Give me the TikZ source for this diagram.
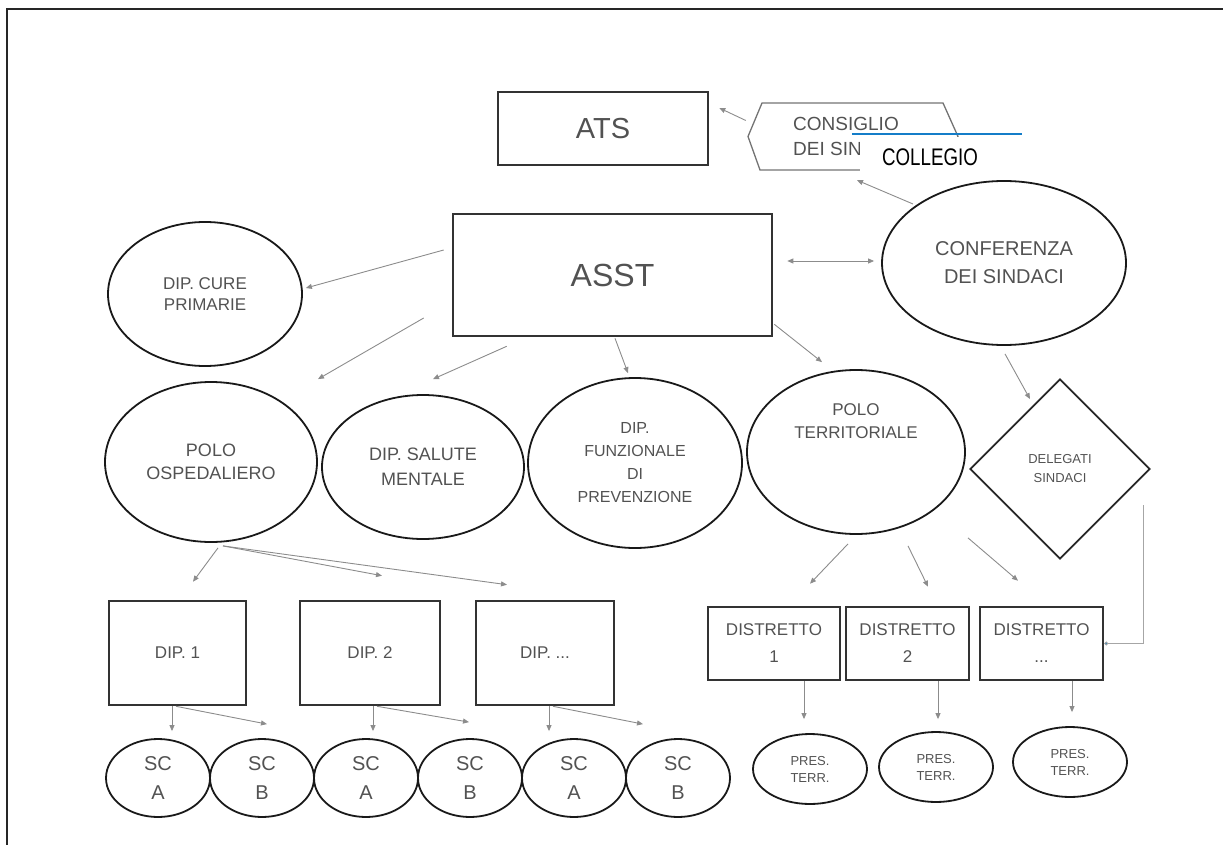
\documentclass[tikz,border=0pt]{standalone}
\usepackage{fontspec}
\setmainfont{Liberation Sans}
\usepackage{graphicx}
\usetikzlibrary{shapes.geometric,arrows.meta,calc}
\begin{document}
\begin{tikzpicture}[x=1pt,y=-1pt,
 txt/.style={text=black!68, align=center, inner sep=0pt},
 box/.style={txt, draw=black!80, line width=2.6pt, rectangle},
 ell/.style={txt, draw=black!90, line width=1.8pt, ellipse},
 dia/.style={txt, draw=black!85, line width=1.8pt, diamond},
 arr/.style={draw=black!45, line width=0.9pt, -{Triangle[length=6pt,width=5pt]}},
 darr/.style={draw=black!45, line width=0.9pt, {Triangle[length=6pt,width=5pt]}-{Triangle[length=6pt,width=5pt]}},
 frameline/.style={draw=black!85, line width=2pt},
 hexline/.style={draw=black!55, line width=1.3pt},
 blueline/.style={draw={rgb,255:red,20;green,125;blue,200}, line width=1.8pt},
 sc/.style={ell, minimum width=104pt, minimum height=78pt, font=\fontsize{20}{29}\selectfont},
 pres/.style={ell, minimum width=114pt, minimum height=70pt, font=\fontsize{13}{17}\selectfont},
 dipbox/.style={box, minimum height=104pt, font=\fontsize{17}{21}\selectfont},
 distbox/.style={box, minimum height=73pt, font=\fontsize{17}{27}\selectfont},
]
\useasboundingbox (0,0) rectangle (1223,845);

% frame
\draw[frameline] (6,9.5) -- (1223,9.5);
\draw[frameline] (7,9) -- (7,845);

% top level
\node[box, minimum width=210pt, minimum height=73pt, font=\fontsize{29}{33}\selectfont] (ats) at (603,128.5) {ATS};
\node[txt, minimum width=210pt, minimum height=67pt, align=left, font=\fontsize{19}{25}\selectfont] (cons) at (846,136.5) {CONSIGLIO\\DEI SIN};
\draw[hexline] ([shift={(-98,0)}]cons.center) -- ([shift={(-84,-33.5)}]cons.center) -- ([shift={(97,-33.5)}]cons.center) -- ([shift={(112,0)}]cons.center) -- ([shift={(97,33.5)}]cons.center) -- ([shift={(-86,33.5)}]cons.center) -- cycle;
\node[fill=white, minimum width=140pt, minimum height=40pt, inner sep=0pt, text=black, font=\fontsize{24}{28}\selectfont] (coll) at (930,157) {\scalebox{0.78}[1]{COLLEGIO}};
\draw[blueline] ([shift={(-8,-3)}]coll.north west) -- ([shift={(22,-3)}]coll.north east);

\node[box, minimum width=319pt, minimum height=122pt, font=\fontsize{32}{36}\selectfont] (asst) at (612.5,275) {ASST};
\node[ell, minimum width=244pt, minimum height=164pt, font=\fontsize{20}{28}\selectfont] (conf) at (1004,263) {CONFERENZA\\DEI SINDACI};
\node[ell, minimum width=194pt, minimum height=144pt, font=\fontsize{17}{21}\selectfont] (cure) at (205,294) {DIP. CURE\\PRIMARIE};

% middle row
\node[ell, minimum width=212pt, minimum height=160pt, font=\fontsize{18}{23}\selectfont] (posp) at (211,462) {POLO\\OSPEDALIERO};
\node[ell, minimum width=202pt, minimum height=144pt, font=\fontsize{18}{25}\selectfont] (salute) at (423,467) {DIP. SALUTE\\MENTALE};
\node[ell, minimum width=214pt, minimum height=170pt, font=\fontsize{16}{23}\selectfont] (funz) at (635,463) {DIP.\\FUNZIONALE\\DI\\PREVENZIONE};
\node[ell, minimum width=218pt, minimum height=164pt, label={[txt, font=\fontsize{17}{23}\selectfont, yshift=31pt]center:{POLO\\TERRITORIALE}}] (pterr) at (856,452) {};
\node[dia, minimum width=180pt, minimum height=180pt, font=\fontsize{13}{19}\selectfont] (deleg) at (1060,469) {DELEGATI\\SINDACI};

% boxes row
\node[dipbox, minimum width=137pt] (dip1) at (177.5,653) {DIP. 1};
\node[dipbox, minimum width=140pt] (dip2) at (370,653) {DIP. 2};
\node[dipbox, minimum width=138pt] (dip3) at (545,653) {DIP. ...};
\node[distbox, minimum width=132pt] (dist1) at (774,643.5) {DISTRETTO\\1};
\node[distbox, minimum width=123pt] (dist2) at (907.5,643.5) {DISTRETTO\\2};
\node[distbox, minimum width=123pt] (dist3) at (1041.5,643.5) {DISTRETTO\\...};

% bottom row
\node[sc] (sca1) at (158,778) {SC\\A};
\node[sc] (scb1) at (262,778) {SC\\B};
\node[sc] (sca2) at (366,778) {SC\\A};
\node[sc] (scb2) at (470,778) {SC\\B};
\node[sc] (sca3) at (574,778) {SC\\A};
\node[sc] (scb3) at (678,778) {SC\\B};
\node[pres] (pres1) at (810,769) {PRES.\\TERR.};
\node[pres] (pres2) at (936,767) {PRES.\\TERR.};
\node[pres] (pres3) at (1070,762) {PRES.\\TERR.};

% connectors
\draw[arr] ([shift={(5,-16)}]cons.west) -- ([shift={(10,-20.5)}]ats.east);
\draw[arr] ([shift={(-91,-59)}]conf.center) -- ([shift={(11,10)}]cons.south);
\draw[darr] ([shift={(14,-14)}]asst.east) -- ([shift={(-7,-2)}]conf.west);
\draw[arr] ([shift={(-8,-25)}]asst.west) -- ([shift={(3,-6)}]cure.east);
\draw[arr] ([shift={(-28,43)}]asst.west) -- ([shift={(107,-2)}]posp.north);
\draw[arr] ([shift={(55,9)}]asst.south west) -- ([shift={(10,-15)}]salute.north);
\draw[arr] ([shift={(2.5,1)}]asst.south) -- ([shift={(-7,-4)}]funz.north);
\draw[arr] ([shift={(1,-13)}]asst.south east) -- ([shift={(-34,-7)}]pterr.north);
\draw[arr] ([shift={(1,8)}]conf.south) -- ([shift={(-30,21)}]deleg.north);

\draw[arr] ([shift={(7,5)}]posp.south) -- ([shift={(15.5,-18)}]dip1.north);
\draw[arr] ([shift={(12,3)}]posp.south) -- ([shift={(12,-24)}]dip2.north);
\draw[arr] ([shift={(12,3)}]posp.south) -- ([shift={(-38,-15)}]dip3.north);
\draw[arr] ([shift={(-8,9)}]pterr.south) -- ([shift={(36,-22)}]dist1.north);
\draw[arr] ([shift={(52,11)}]pterr.south) -- ([shift={(20.5,-19)}]dist2.north);
\draw[arr] ([shift={(112,3)}]pterr.south) -- ([shift={(-23.5,-25)}]dist3.north);
\draw[draw=black!35, line width=0.7pt, -{Circle[length=4pt, fill={rgb,255:red,70;green,140;blue,180}]}] ([shift={(-8,36)}]deleg.east) |- (dist3.east);

\draw[arr] ([xshift=-5.5pt]dip1.south) -- ([shift={(14,-7)}]sca1.north);
\draw[arr] ([xshift=-1.5pt]dip1.south) -- ([shift={(5,-14)}]scb1.north);
\draw[arr] ([xshift=3pt]dip2.south) -- ([shift={(7,-7)}]sca2.north);
\draw[arr] ([xshift=7pt]dip2.south) -- ([shift={(-1,-16)}]scb2.north);
\draw[arr] ([xshift=4pt]dip3.south) -- ([shift={(-25,-7)}]sca3.north);
\draw[arr] ([xshift=8pt]dip3.south) -- ([shift={(-35,-14)}]scb3.north);

\draw[arr] ([xshift=30pt]dist1.south) -- ([shift={(-6,-14)}]pres1.north);
\draw[arr] ([xshift=30.5pt]dist2.south) -- ([shift={(2,-12)}]pres2.north);
\draw[arr] ([xshift=30.5pt]dist3.south) -- ([shift={(2,-14)}]pres3.north);
\end{tikzpicture}
\end{document}
